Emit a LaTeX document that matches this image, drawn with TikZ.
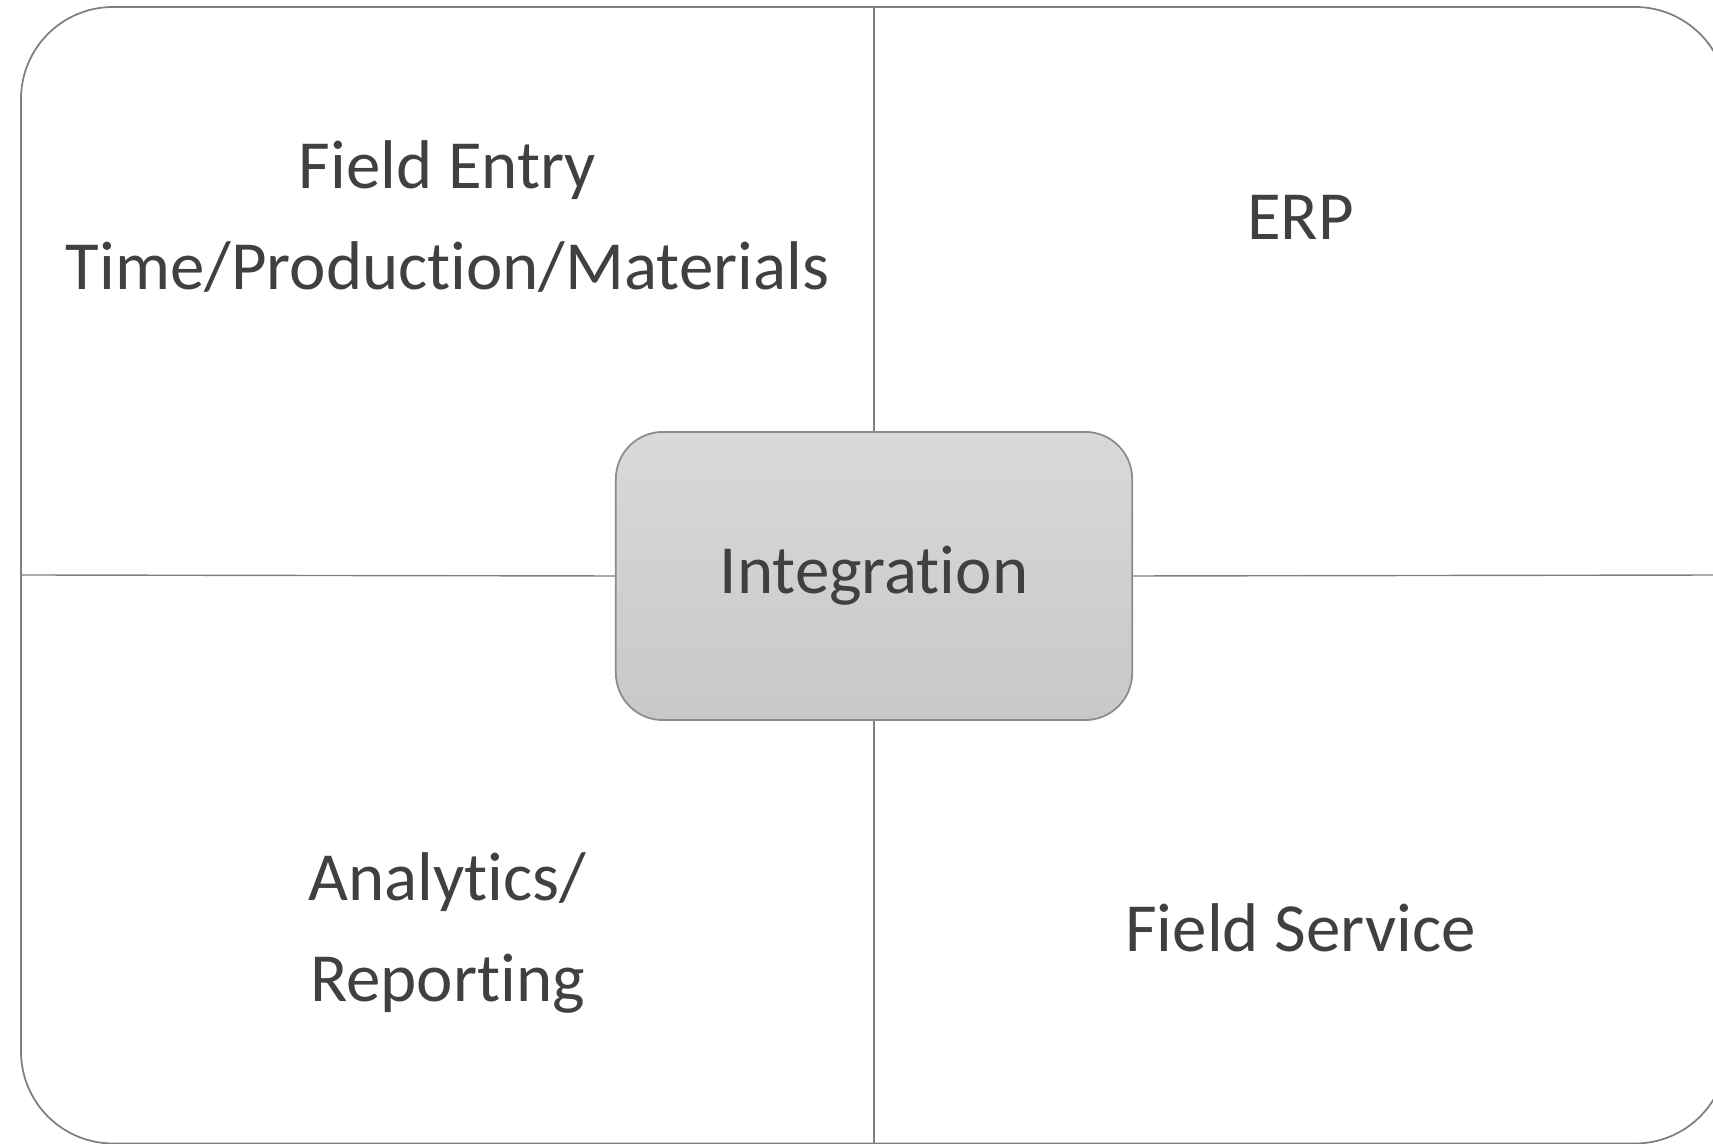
\documentclass[tikz,border=0pt]{standalone}
\usepackage{fontspec}
\setmainfont{Carlito}[Ligatures=NoCommon]
\definecolor{txtgray}{HTML}{404040}
\definecolor{framegray}{HTML}{7F7F7F}
\definecolor{hubedge}{HTML}{8C8C8C}
\definecolor{hubtop}{HTML}{D9D9D9}
\definecolor{hubbottom}{HTML}{C8C8C8}
\begin{document}
\begin{tikzpicture}[x=0.01cm, y=0.01cm,
  quadtext/.style={text=txtgray, font=\fontsize{19.6}{29}\selectfont, align=center, inner sep=0pt, anchor=base},
  hub/.style={draw=hubedge, line width=0.5pt, rounded corners=0.47cm, top color=hubtop, bottom color=hubbottom,
    minimum width=5.16cm, minimum height=2.88cm, text=txtgray, font=\fontsize{19.6}{29}\selectfont}]
\useasboundingbox (0,0) rectangle (1713,1143);
% outer frame, cut by the page on the right and at the bottom
\draw[framegray, line width=0.5pt, rounded corners=0.92cm] (21,1136) rectangle (1727,-0.5);
\coordinate (ftop) at (874,1136);
\coordinate (fbottom) at (874,-0.5);
\coordinate (fleft) at (21,568);
\coordinate (fright) at (1727,568);
\node[hub] (integ) at (874,567) {Integration};
\draw[framegray, line width=0.4pt] (ftop) -- (integ.north);
\draw[framegray, line width=0.4pt] (integ.south) -- (fbottom);
\draw[framegray, line width=0.4pt] (fleft) -- (integ.west);
\draw[framegray, line width=0.4pt] (integ.east) -- (fright);
% quadrant labels (base = last line)
\node[quadtext] (fieldentry) at (447.5,853) {Field Entry\\Time/Production/Materials};
\node[quadtext] (erp) at (1300.5,903) {ERP};
\node[quadtext] (analytics) at (447.5,141) {Analytics/\\Reporting};
\node[quadtext] (fieldservice) at (1300.5,191) {Field Service};
\end{tikzpicture}
\end{document}
